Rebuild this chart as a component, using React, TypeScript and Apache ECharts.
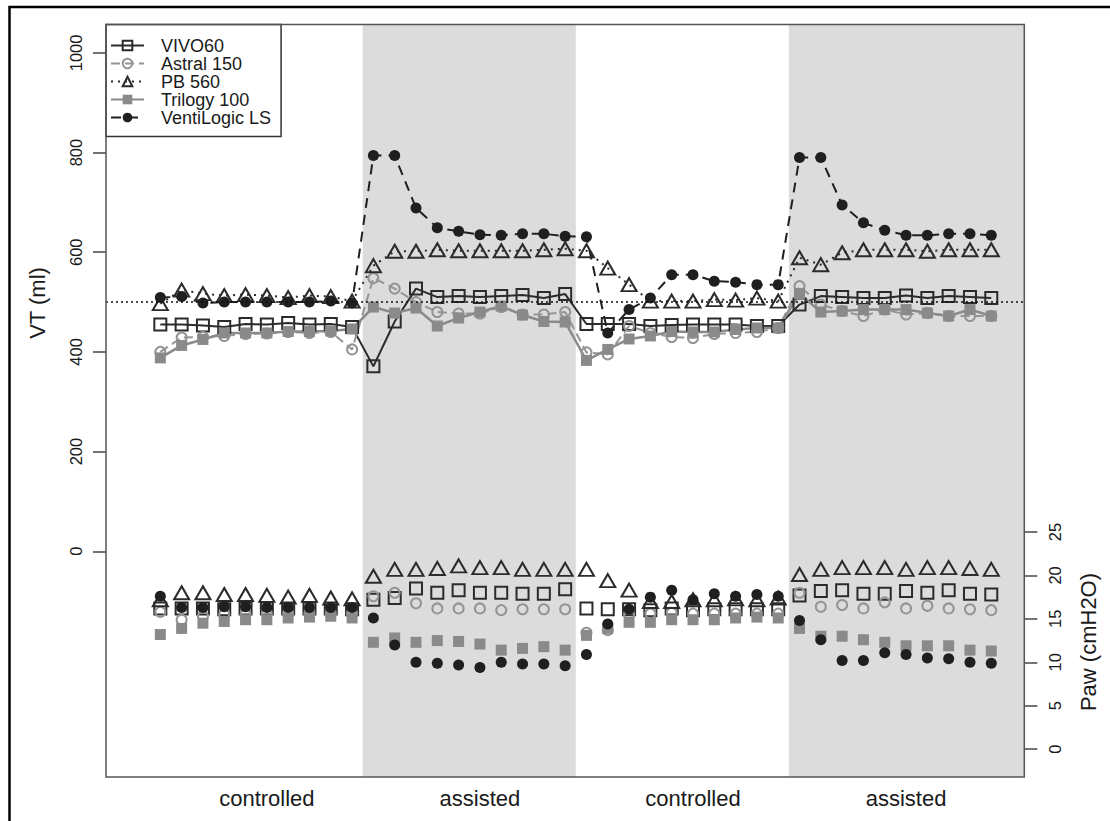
import React, { useEffect, useRef } from 'react';
import * as echarts from 'echarts';

const FONT = '"Liberation Sans", Arial, Helvetica, sans-serif';

// breath index along the protocol (10 breaths per phase)
const breaths = [
  1, 2, 3, 4, 5, 6, 7, 8, 9, 10,
  11, 12, 13, 14, 15, 16, 17, 18, 19, 20,
  21, 22, 23, 24, 25, 26, 27, 28, 29, 30,
  31, 32, 33, 34, 35, 36, 37, 38, 39, 40,
];
const phaseLabels = ['controlled', 'assisted', 'controlled', 'assisted'];
const phaseLabelAt = [6, 16, 26, 36];
const assistedPhases = [[10.5, 20.5], [30.5, 41.55]];
const vtTicks = [0, 200, 400, 600, 800, 1000];
const pawTicks = [0, 5, 10, 15, 20, 25];
const vtTarget = 500;
const deviceNames = ['VIVO60', 'Astral 150', 'PB 560', 'Trilogy 100', 'VentiLogic LS'];

// Tidal volume (ml)
const vtVivo60 = [
  455, 455, 453, 450, 456, 455, 458, 455, 456, 450,
  371, 461, 527, 510, 512, 510, 512, 514, 508, 516,
  456, 456, 456, 452, 454, 455, 455, 455, 452, 452,
  495, 512, 510, 508, 508, 513, 508, 512, 510, 508,
];
const vtAstral150 = [
  400, 429, 430, 432, 436, 437, 440, 438, 440, 405,
  548, 527, 500, 480, 477, 477, 490, 475, 475, 480,
  399, 395, 452, 438, 430, 428, 436, 438, 440, 448,
  532, 495, 482, 472, 485, 475, 478, 472, 472, 472,
];
const vtPb560 = [
  497, 524, 517, 513, 515, 513, 509, 513, 511, 502,
  573, 602, 602, 605, 603, 603, 603, 603, 605, 607,
  603, 568, 535, 502, 502, 502, 505, 504, 508, 502,
  589, 575, 599, 605, 605, 605, 602, 605, 605, 605,
];
const vtTrilogy100 = [
  388, 413, 425, 438, 438, 438, 441, 441, 442, 446,
  490, 478, 488, 452, 468, 480, 492, 474, 461, 460,
  383, 405, 426, 432, 441, 440, 440, 445, 448, 448,
  517, 480, 482, 485, 485, 485, 478, 472, 485, 472,
];
const vtVentiLogic = [
  509, 511, 498, 500, 500, 500, 500, 500, 502, 498,
  794, 794, 689, 649, 642, 635, 634, 637, 637, 632,
  631, 438, 485, 508, 555, 555, 542, 540, 535, 535,
  790, 790, 695, 659, 644, 634, 634, 637, 637, 634,
];

// Airway pressure (cmH2O)
const pawVivo60 = [
  16.2, 16.2, 16.2, 16.1, 16.2, 16.2, 16.2, 16.2, 16.2, 16.1,
  17.2, 17.4, 18.5, 18.0, 18.3, 18.0, 18.0, 17.9, 17.9, 18.4,
  16.2, 16.1, 16.1, 16.0, 16.2, 16.0, 16.1, 16.1, 16.1, 16.1,
  17.7, 18.2, 18.3, 17.9, 17.9, 18.2, 18.0, 18.3, 17.9, 17.8,
];
const pawAstral150 = [
  15.8, 14.9, 15.3, 15.5, 15.5, 15.6, 15.6, 15.6, 15.6, 15.6,
  17.6, 18.0, 16.8, 16.2, 16.2, 16.2, 16.0, 16.1, 16.1, 16.1,
  13.4, 13.7, 15.5, 15.6, 15.7, 15.6, 15.6, 15.6, 15.6, 15.6,
  18.0, 16.4, 16.6, 16.2, 16.9, 16.2, 16.5, 16.2, 16.1, 16.0,
];
const pawPb560 = [
  17.2, 18.0, 18.0, 17.8, 17.8, 17.7, 17.5, 17.7, 17.4, 17.3,
  19.9, 20.7, 20.7, 20.8, 21.1, 20.9, 20.9, 20.7, 20.7, 20.7,
  20.7, 19.4, 18.3, 17.0, 17.0, 17.2, 17.2, 17.3, 17.2, 17.4,
  20.1, 20.7, 20.9, 20.9, 20.9, 20.7, 20.9, 20.9, 20.8, 20.7,
];
const pawTrilogy100 = [
  13.2, 13.9, 14.5, 14.7, 14.9, 14.9, 15.1, 15.2, 15.3, 15.1,
  12.3, 12.8, 12.3, 12.5, 12.4, 12.1, 11.4, 11.6, 11.8, 11.4,
  13.1, 13.9, 14.6, 14.6, 14.9, 14.9, 14.9, 15.1, 15.2, 15.1,
  13.9, 13.0, 13.0, 12.6, 12.3, 11.9, 11.9, 11.9, 11.4, 11.3,
];
const pawVentiLogic = [
  17.6, 16.3, 16.3, 16.4, 16.4, 16.3, 16.3, 16.3, 16.3, 16.3,
  15.1, 12.0, 10.0, 9.9, 9.7, 9.4, 10.0, 9.8, 9.8, 9.6,
  10.9, 14.4, 16.1, 17.5, 18.3, 17.2, 17.9, 17.6, 17.8, 17.6,
  14.8, 12.6, 10.2, 10.2, 11.1, 10.9, 10.5, 10.4, 10.0, 9.9,
];

const vtData = [vtVivo60, vtAstral150, vtPb560, vtTrilogy100, vtVentiLogic];
const pawData = [pawVivo60, pawAstral150, pawPb560, pawTrilogy100, pawVentiLogic];

// styles per device
const looks: any[] = [
  { symbol: 'rect', size: 12, fill: 'rgba(0,0,0,0)', stroke: '#2b2b2b', bw: 2, line: '#2b2b2b', lw: 2, dash: 'solid' },
  { symbol: 'circle', size: 10, fill: 'rgba(0,0,0,0)', stroke: '#949494', bw: 2, line: '#949494', lw: 2, dash: [9, 5] },
  { symbol: 'triangle', size: [15, 13], fill: 'rgba(0,0,0,0)', stroke: '#2b2b2b', bw: 2, line: '#2b2b2b', lw: 2, dash: [2, 5] },
  { symbol: 'rect', size: 11, fill: '#8a8a8a', stroke: '#8a8a8a', bw: 0, line: '#8a8a8a', lw: 2.5, dash: 'solid' },
  { symbol: 'circle', size: 11, fill: '#1f1f1f', stroke: '#1f1f1f', bw: 0, line: '#1f1f1f', lw: 2, dash: [10, 7] },
];

const GRID = { left: 106, top: 24.5, right: 1024.3, bottom: 777 };

function buildOption(): any {
  const lineSeries = deviceNames.map((name, k) => {
    const L = looks[k];
    return {
      type: 'line',
      name,
      xAxisIndex: 0,
      yAxisIndex: 0,
      data: breaths.map((b, i) => [b, vtData[k][i]]),
      symbol: L.symbol,
      symbolSize: L.size,
      showAllSymbol: true,
      itemStyle: { color: L.fill, borderColor: L.stroke, borderWidth: L.bw },
      lineStyle: { color: L.line, width: L.lw, type: L.dash },
      emphasis: { disabled: true },
      z: 3,
    };
  });
  const pawSeries = deviceNames.map((name, k) => {
    const L = looks[k];
    return {
      type: 'scatter',
      name,
      xAxisIndex: 0,
      yAxisIndex: 1,
      data: breaths.map((b, i) => [b, pawData[k][i]]),
      symbol: L.symbol,
      symbolSize: L.size,
      itemStyle: { color: L.fill, borderColor: L.stroke, borderWidth: L.bw, opacity: 1 },
      emphasis: { disabled: true },
      z: 3,
    };
  });
  const host = {
    type: 'line',
    xAxisIndex: 0,
    yAxisIndex: 0,
    data: [],
    silent: true,
    z: 1,
    markArea: {
      silent: true,
      itemStyle: { color: '#dcdcdc' },
      data: assistedPhases.map(([a, b]) => [{ xAxis: a }, { xAxis: b }]),
    },
    markLine: {
      silent: true,
      symbol: ['none', 'none'],
      label: { show: false },
      lineStyle: { color: '#111', type: [2, 3], width: 1.5 },
      data: [{ yAxis: vtTarget }],
    },
  };

  const tickLabel = {
    fontSize: 16.5,
    fontFamily: FONT,
    color: '#1a1a1a',
    rotate: 90,
    margin: 22,
    formatter: (v: number) => String(v),
  };

  return {
    animation: false,
    backgroundColor: '#fff',
    grid: {
      left: GRID.left,
      top: GRID.top,
      right: 1110 - GRID.right,
      bottom: 821 - GRID.bottom,
      containLabel: false,
    },
    legend: {
      data: deviceNames,
      orient: 'vertical',
      left: 106,
      top: 24.5,
      padding: [12, 10, 10, 4],
      itemGap: 0,
      itemWidth: 33,
      itemHeight: 12,
      backgroundColor: '#fff',
      borderColor: '#333',
      borderWidth: 1.5,
      selectedMode: false,
      textStyle: { fontSize: 18, fontFamily: FONT, color: '#1a1a1a', padding: [0, 0, 0, 12], lineHeight: 18 },
    },
    xAxis: {
      type: 'value',
      min: -1.55,
      max: 41.55,
      splitLine: { show: false },
      axisLine: { show: false, onZero: false },
      axisTick: { show: false },
      axisLabel: {
        customValues: phaseLabelAt,
        formatter: (v: number) => {
          const i = phaseLabelAt.indexOf(v);
          return i >= 0 ? phaseLabels[i] : '';
        },
        fontSize: 22,
        fontFamily: FONT,
        color: '#1a1a1a',
        margin: 10,
      },
    },
    yAxis: [
      {
        type: 'value',
        position: 'left',
        min: -453,
        max: 1057,
        splitLine: { show: false },
        axisLine: { show: false, onZero: false },
        axisTick: { show: true, length: 13, customValues: vtTicks, lineStyle: { color: '#444', width: 1.5 } },
        axisLabel: { ...tickLabel, customValues: vtTicks },
      },
      {
        type: 'value',
        position: 'right',
        min: -3.2,
        max: 83.4,
        splitLine: { show: false },
        axisLine: { show: false, onZero: false },
        axisTick: { show: true, length: 13, customValues: pawTicks, lineStyle: { color: '#444', width: 1.5 } },
        axisLabel: { ...tickLabel, customValues: pawTicks },
      },
    ],
    graphic: [
      {
        type: 'rect',
        z: 100,
        silent: true,
        shape: { x: GRID.left, y: GRID.top, width: GRID.right - GRID.left, height: GRID.bottom - GRID.top },
        style: { fill: 'none', stroke: '#555', lineWidth: 1.5 },
      },
      {
        type: 'polyline',
        z: 100,
        silent: true,
        shape: { points: [[9.5, 821], [9.5, 7], [1110, 7]] },
        style: { fill: 'none', stroke: '#000', lineWidth: 2.5 },
      },
      {
        type: 'text',
        z: 100,
        x: 37,
        y: 303,
        rotation: Math.PI / 2,
        style: { text: 'VT (ml)', fontSize: 22, fontFamily: FONT, fill: '#1a1a1a', align: 'center', verticalAlign: 'middle' },
      },
      {
        type: 'text',
        z: 100,
        x: 1088,
        y: 642,
        rotation: Math.PI / 2,
        style: { text: 'Paw (cmH2O)', fontSize: 22, fontFamily: FONT, fill: '#1a1a1a', align: 'center', verticalAlign: 'middle' },
      },
    ],
    series: [host, ...lineSeries, ...pawSeries],
  };
}

export default function App() {
  const ref = useRef<HTMLDivElement>(null);
  useEffect(() => {
    if (!ref.current) return;
    const chart = echarts.init(ref.current, null, { renderer: 'svg' });
    chart.setOption(buildOption());
    return () => chart.dispose();
  }, []);
  return (
    <div
      ref={ref}
      style={{ position: 'absolute', left: 0, top: 0, width: 1110, height: 821, background: '#fff' }}
    />
  );
}
